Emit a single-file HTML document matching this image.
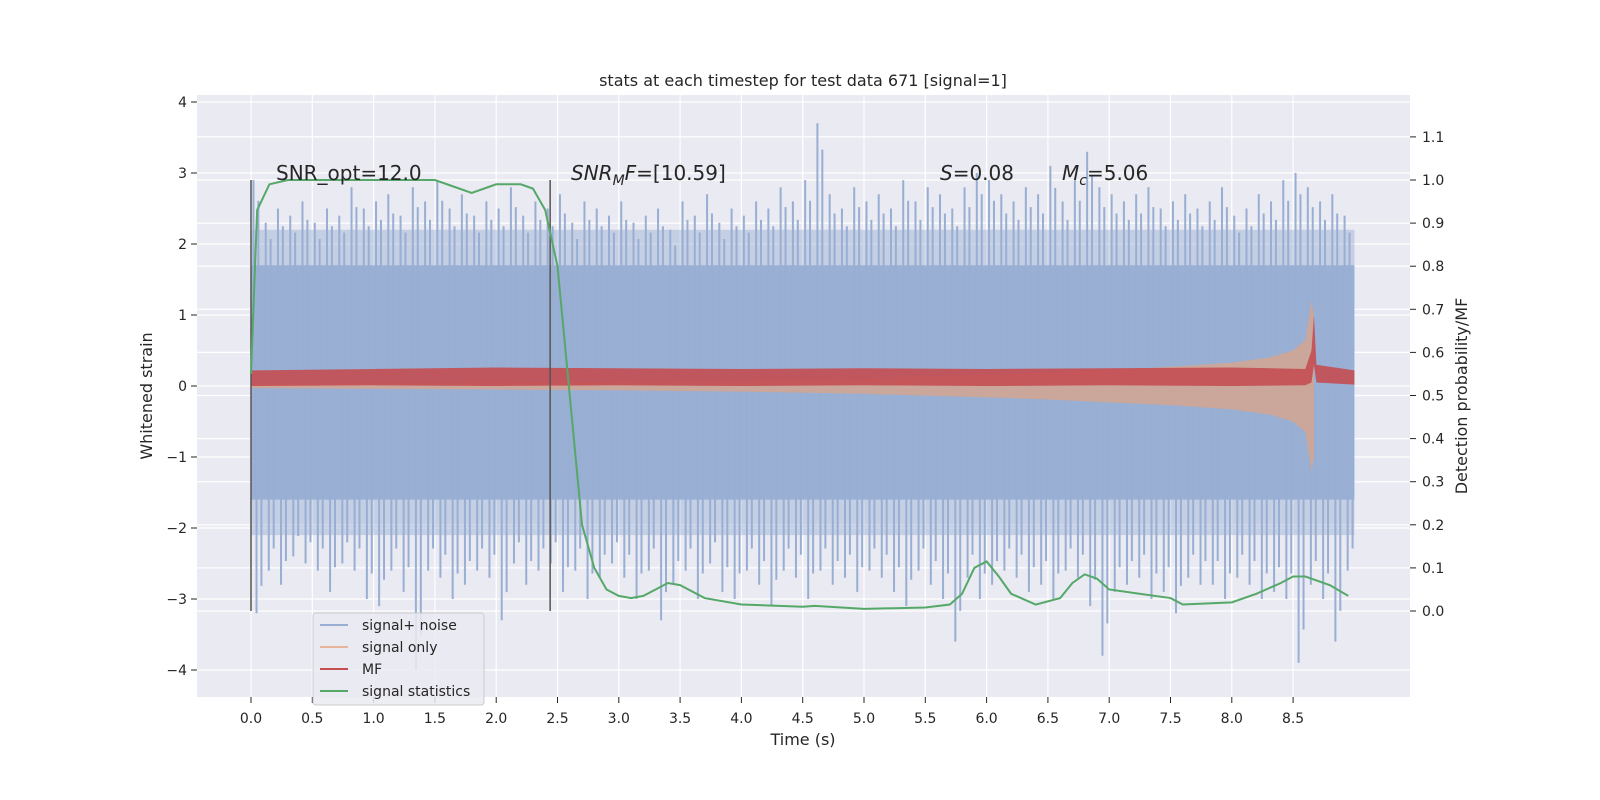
<!DOCTYPE html>
<html><head><meta charset="utf-8"><style>
html,body{margin:0;padding:0;background:#fff;overflow:hidden;width:1600px;height:800px}
svg{display:block}
svg text{font-family:"DejaVu Sans","Liberation Sans",sans-serif}
</style></head><body>
<svg id="c" width="1600" height="800" viewBox="0 0 1600 800" xmlns="http://www.w3.org/2000/svg">
<rect x="197" y="95" width="1213" height="602" fill="#eaeaf2"/>
<g id="grid"></g><g id="marks"></g><g id="axes"></g>
<text x="803" y="86" text-anchor="middle" font-size="16" fill="#262626">stats at each timestep for test data 671 [signal=1]</text>
<text x="803" y="745" text-anchor="middle" font-size="16" fill="#262626">Time (s)</text>
<text transform="translate(152,396) rotate(-90)" text-anchor="middle" font-size="16" fill="#262626">Whitened strain</text>
<text transform="translate(1467,396) rotate(-90)" text-anchor="middle" font-size="16" fill="#262626">Detection probability/MF</text>
<g font-size="20" fill="#262626">
<text x="276" y="180">SNR_opt=12.0</text>
<text x="571" y="180"><tspan font-style="italic">SNR</tspan><tspan font-style="italic" font-size="14" dy="5">M</tspan><tspan font-style="italic" dy="-5">F</tspan>=[10.59]</text>
<text x="940" y="180"><tspan font-style="italic">S</tspan>=0.08</text>
<text x="1062" y="180"><tspan font-style="italic">M</tspan><tspan font-style="italic" font-size="14" dy="5">c</tspan><tspan dy="-5">=5.06</tspan></text>
</g>
<g id="legendg">
<rect x="313" y="613" width="171" height="92" rx="3" fill="#eaeaf2" fill-opacity="0.85" stroke="#cccccc"/>
<line x1="320" y1="625" x2="348" y2="625" stroke="#98aed3" stroke-width="2"/>
<text x="362" y="630" font-size="14" fill="#262626">signal+ noise</text>
<line x1="320" y1="647" x2="348" y2="647" stroke="#e8b59a" stroke-width="2"/>
<text x="362" y="652" font-size="14" fill="#262626">signal only</text>
<line x1="320" y1="669" x2="348" y2="669" stroke="#c44e52" stroke-width="2"/>
<text x="362" y="674" font-size="14" fill="#262626">MF</text>
<line x1="320" y1="691" x2="348" y2="691" stroke="#55a868" stroke-width="2"/>
<text x="362" y="696" font-size="14" fill="#262626">signal statistics</text>
</g>
</svg>
<script>
const xTicks=[0,0.5,1,1.5,2,2.5,3,3.5,4,4.5,5,5.5,6,6.5,7,7.5,8,8.5];
const yTicks=[-4,-3,-2,-1,0,1,2,3,4];
const rTicks=[0,0.1,0.2,0.3,0.4,0.5,0.6,0.7,0.8,0.9,1.0,1.1];
const noiseHi=[2.9,2.3,2.5,2.4,2.6,2.3,2.5,2.4,2.8,2.5,2.6,2.7,2.4,2.8,2.6,2.9,2.5,2.7,2.4,2.6,2.5,2.8,2.4,2.6,2.5,2.7,2.3,2.6,2.5,2.4,2.6,2.3,2.4,2.5,2.2,2.6,2.4,2.7,2.3,2.5,2.4,2.6,2.5,2.8,2.6,2.9,3.7,2.7,2.5,2.8,2.6,2.7,2.5,2.9,2.6,2.8,2.7,2.5,2.8,3.0,2.9,2.7,2.6,2.8,2.7,3.1,2.6,2.9,3.3,2.8,2.7,2.6,2.7,2.8,2.5,2.6,2.7,2.5,2.6,2.8,2.4,2.5,2.7,2.6,2.9,3.0,2.8,2.6,2.7,2.4];
const noiseLo=[-3.2,-2.6,-2.8,-2.4,-2.5,-2.6,-2.9,-2.5,-2.6,-3.0,-3.1,-2.6,-2.9,-4.0,-2.6,-2.7,-3.0,-2.8,-2.6,-2.7,-3.3,-2.5,-2.8,-2.6,-2.5,-2.9,-2.6,-3.0,-2.7,-2.5,-2.7,-3.0,-2.6,-3.3,-2.8,-2.6,-3.0,-2.5,-2.9,-3.0,-2.6,-2.8,-3.1,-2.6,-2.7,-3.0,-2.6,-2.8,-2.7,-2.9,-2.6,-2.7,-2.9,-3.1,-2.6,-2.8,-3.0,-3.6,-2.7,-3.0,-2.8,-2.6,-2.7,-2.9,-2.8,-3.0,-2.6,-2.7,-3.1,-3.8,-2.9,-2.8,-2.7,-3.0,-2.9,-3.2,-2.7,-2.8,-2.8,-3.0,-2.7,-2.8,-3.0,-2.9,-3.0,-3.9,-2.8,-3.0,-3.6,-2.6];
const sigT=[0,1,2,3,4,5,6,6.5,7,7.5,8,8.3,8.5,8.6,8.65,8.67];
const sigAmp=[0.03,0.04,0.05,0.06,0.08,0.11,0.16,0.19,0.23,0.27,0.33,0.4,0.5,0.65,1.2,1.0];
const mfT=[0,1,2,3,4,5,6,7,8,8.6,8.65,8.67,8.69,9.0];
const mfLo=[0.0,0.01,0.0,0.01,0.0,0.01,0.0,0.01,0.0,0.01,0.05,0.3,0.05,0.02];
const mfHi=[0.22,0.24,0.26,0.25,0.24,0.25,0.24,0.25,0.26,0.24,0.5,1.0,0.3,0.22];
const statT=[0,0.05,0.15,0.3,1.5,1.7,1.8,1.9,2.0,2.2,2.3,2.4,2.5,2.6,2.7,2.8,2.9,3.0,3.1,3.2,3.3,3.4,3.5,3.7,4.0,4.5,4.6,5.0,5.5,5.7,5.8,5.9,6.0,6.1,6.2,6.4,6.6,6.7,6.8,6.9,7.0,7.5,7.6,8.0,8.2,8.4,8.5,8.6,8.8,8.95];
const statV=[0.55,0.93,0.99,1.0,1.0,0.98,0.97,0.98,0.99,0.99,0.98,0.93,0.8,0.5,0.2,0.1,0.05,0.035,0.03,0.035,0.05,0.065,0.06,0.03,0.015,0.01,0.012,0.005,0.008,0.015,0.04,0.1,0.115,0.08,0.04,0.015,0.03,0.065,0.085,0.075,0.05,0.03,0.015,0.02,0.04,0.065,0.08,0.08,0.06,0.035];
const vlines=[0,2.44];
const X=t=>251+t*122.6, Y=v=>386-v*71.0, R=p=>611-p*431;
const NS='http://www.w3.org/2000/svg';
function mk(tag,attrs,parent){const e=document.createElementNS(NS,tag);for(const k in attrs)e.setAttribute(k,attrs[k]);document.getElementById(parent).appendChild(e);return e;}
yTicks.forEach(v=>{const l=mk('line',{x1:197,x2:1410,y1:Y(v),y2:Y(v),stroke:'#fff','stroke-width':1.2},'grid');

const t=mk('text',{x:187,y:Y(v)+5,'text-anchor':'end','font-size':14,fill:'#262626'},'axes');t.textContent=v===0?'0':(v<0?'\u2212'+(-v):v);

const k=mk('line',{x1:191,x2:197,y1:Y(v),y2:Y(v),stroke:'#262626'},'axes');});
rTicks.forEach(v=>{const l=mk('line',{x1:197,x2:1410,y1:R(v),y2:R(v),stroke:'#fff','stroke-width':1.2},'grid');

const t=mk('text',{x:1422,y:R(v)+5,'font-size':14,fill:'#262626'},'axes');t.textContent=v.toFixed(1);

const k=mk('line',{x1:1410,x2:1416,y1:R(v),y2:R(v),stroke:'#262626'},'axes');});
xTicks.forEach(v=>{const l=mk('line',{x1:X(v),x2:X(v),y1:95,y2:697,stroke:'#fff','stroke-width':1.2},'grid');

const t=mk('text',{x:X(v),y:723,'text-anchor':'middle','font-size':14,fill:'#262626'},'axes');t.textContent=v.toFixed(1);

const k=mk('line',{x1:X(v),x2:X(v),y1:697,y2:703,stroke:'#262626'},'axes');});
const nb=mk('rect',{x:X(0),y:Y(1.7),width:X(9.0)-X(0),height:Y(-1.6)-Y(1.7),fill:'#9aafd3'},'marks');

const nb2=mk('rect',{x:X(0),y:Y(2.2),width:X(9.0)-X(0),height:Y(-2.1)-Y(2.2),fill:'#9aafd3','fill-opacity':0.45},'marks');

noiseHi.forEach((h,i)=>{const t=i*0.1;
[[0.02,h],[0.06,h*0.9],[0.045,noiseLo[i]],[0.085,noiseLo[i]*0.88]].forEach(([dt,v])=>{
const l=mk('line',{x1:X(t+dt),x2:X(t+dt),y1:Y(0),y2:Y(v),stroke:'#98aed3','stroke-width':2},'marks');
});});
let upPts=sigT.map((t,i)=>X(t)+','+Y(sigAmp[i])),dnPts=sigT.map((t,i)=>X(t)+','+Y(-sigAmp[i])).reverse();
const sp=mk('polygon',{points:upPts.concat(dnPts).join(' '),fill:'#d4a590','fill-opacity':0.85},'marks');

upPts=mfT.map((t,i)=>X(t)+','+Y(mfHi[i]));dnPts=mfT.map((t,i)=>X(t)+','+Y(mfLo[i])).reverse();
const mp=mk('polygon',{points:upPts.concat(dnPts).join(' '),fill:'#c44e52','fill-opacity':0.9},'marks');

vlines.forEach(t=>{const l=mk('line',{x1:X(t),x2:X(t),y1:R(0),y2:R(1.0),stroke:'#555','stroke-width':1.5},'marks');
});
const sl=mk('polyline',{points:statT.map((t,i)=>X(t)+','+R(statV[i])).join(' '),fill:'none',stroke:'#55a868','stroke-width':2},'marks');

const lg=document.getElementById('legendg');lg.parentNode.appendChild(lg);
</script>
</body></html>
